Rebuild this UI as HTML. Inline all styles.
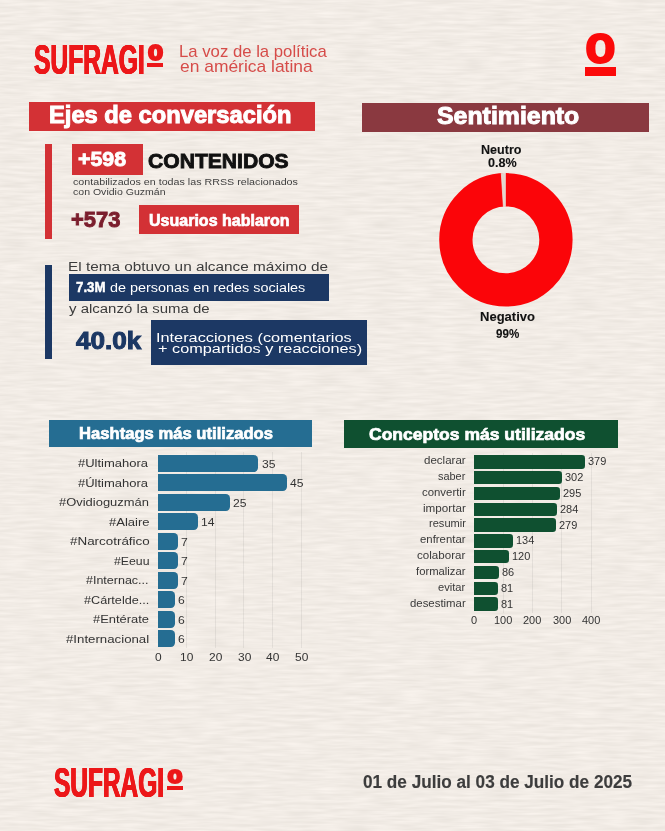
<!DOCTYPE html>
<html lang="es"><head><meta charset="utf-8"><title>Sufragio - Ejes de conversación</title>
<style>
html,body{margin:0;padding:0}
body{width:665px;height:831px;overflow:hidden;position:relative;background:#f1ebe5;font-family:"Liberation Sans",sans-serif}
#bg{position:absolute;left:0;top:0;width:665px;height:831px}
header,main,section,footer,div,p{margin:0;padding:0}
.b{position:absolute}
.t{position:absolute;margin:0;padding:0;white-space:nowrap;line-height:1;font-weight:400;transform-origin:0 0}
.c{display:inline-block;position:relative;line-height:1;transform-origin:0 0}
.g{position:absolute;width:1px;background:rgba(120,120,120,.13)}
</style></head><body>
<svg id="bg" width="665" height="831"><filter id="paper" x="0" y="0" width="100%" height="100%" color-interpolation-filters="sRGB"><feTurbulence type="fractalNoise" baseFrequency="0.035 0.33" numOctaves="2" seed="11" result="n"/><feColorMatrix type="matrix" in="n" values="0.08 0 0 0 0.906  0.08 0 0 0 0.883  0.085 0 0 0 0.856  0 0 0 0 1"/></filter><rect width="665" height="831" filter="url(#paper)"/></svg>

<header>
<div class="logo">
<span class="t" style="left:33.78px;top:38px;font-size:43.31px;color:#ec1719;transform:scaleX(0.5683);font-weight:700;text-shadow:0.80px 0 0 #ec1719,-0.80px 0 0 #ec1719,0.40px 0 0 #ec1719,-0.40px 0 0 #ec1719">SUFRAGI<span class="c" style="left:5.97px;top:-14.00px;font-size:21.25px;color:#ec1719;transform:scaleX(2.0061);text-shadow:none;font-family:'Liberation Mono',monospace;-webkit-text-stroke:2.20px #ec1719">O</span></span>
<div class="b u" style="left:147.2px;top:63.2px;width:16.0px;height:4.0px;background:#ec1719"></div>
</div>
<p class="tagline">
<span class="t" style="left:178.65px;top:44px;font-size:15.99px;color:#d64c49;transform:scaleX(1.0459)">La voz de la política</span>
<span class="t" style="left:179.70px;top:59px;font-size:15.99px;color:#d64c49;transform:scaleX(1.0902)">en américa latina</span>
</p>
<div class="mark">
<span class="t" style="left:586.24px;top:31px;font-size:40.69px;color:#fb0a0a;transform:scaleX(1.1810);font-family:'Liberation Mono',monospace;-webkit-text-stroke:3.80px #fb0a0a">O</span>
<div class="b u" style="left:585.0px;top:67.2px;width:30.8px;height:8.6px;background:#fb0a0a"></div>
</div>
</header>
<main>
<section class="ejes">
<div class="b" style="left:29.1px;top:101.5px;width:285.7px;height:29.2px;background:#d33135"></div>
<h2 class="t" style="left:48.91px;top:103px;font-size:23.98px;color:#fff;transform:scaleX(0.9890);font-weight:700;-webkit-text-stroke:1.01px #fff">Ejes de conversación</h2>
<div class="stat">
<div class="b" style="left:45.0px;top:144.3px;width:6.9px;height:94.5px;background:#d33135"></div>
<div class="b" style="left:72.4px;top:144.3px;width:71.1px;height:30.3px;background:#d33135"></div>
<strong class="t" style="left:78.00px;top:149px;font-size:20.35px;color:#fff;transform:scaleX(1.0488);font-weight:700;-webkit-text-stroke:0.85px #fff">+598</strong>
<strong class="t" style="left:147.50px;top:150px;font-size:21.08px;color:#111;transform:scaleX(1.0009);font-weight:700;-webkit-text-stroke:0.89px #111">CONTENIDOS</strong>
<span class="t" style="left:73.00px;top:177px;font-size:9.88px;color:#404040;transform:scaleX(1.0840)">contabilizados en todas las RRSS relacionados</span>
<span class="t" style="left:73.00px;top:187px;font-size:9.88px;color:#404040;transform:scaleX(1.0669)">con Ovidio Guzmán</span>
<strong class="t" style="left:71.00px;top:210px;font-size:21.51px;color:#7b1e2d;transform:scaleX(1.0192);font-weight:700;-webkit-text-stroke:0.90px #7b1e2d">+573</strong>
<div class="b" style="left:139.2px;top:205.4px;width:159.6px;height:28.6px;background:#d33135"></div>
<strong class="t" style="left:148.54px;top:213px;font-size:16.72px;color:#fff;transform:scaleX(0.9591);font-weight:700;-webkit-text-stroke:0.70px #fff">Usuarios hablaron</strong>
</div>
<div class="stat">
<div class="b" style="left:45.0px;top:264.5px;width:6.9px;height:94.2px;background:#1c3864"></div>
<span class="t" style="left:68.08px;top:260px;font-size:13.66px;color:#3c3c3c;transform:scaleX(1.1234)">El tema obtuvo un alcance máximo de</span>
<div class="b" style="left:68.5px;top:274.2px;width:260.1px;height:26.5px;background:#1c3864"></div>
<strong class="t" style="left:75.50px;top:280px;font-size:14.53px;color:#fff;transform:scaleX(0.9168);font-weight:700;-webkit-text-stroke:0.44px #fff">7.3M</strong>
<span class="t" style="left:109.50px;top:281px;font-size:13.66px;color:#fff;transform:scaleX(1.0544)">de personas en redes sociales</span>
<span class="t" style="left:69.20px;top:302px;font-size:13.66px;color:#3c3c3c;transform:scaleX(1.0964)">y alcanzó la suma de</span>
<strong class="t" style="left:76.10px;top:330px;font-size:23.26px;color:#1c3864;transform:scaleX(1.1210);font-weight:700;-webkit-text-stroke:1.00px #1c3864">40.0k</strong>
<div class="b" style="left:151.2px;top:320.3px;width:215.8px;height:44.7px;background:#1c3864"></div>
<span class="t" style="left:156.25px;top:331px;font-size:13.08px;color:#fff;transform:scaleX(1.2463)">Interacciones (comentarios</span>
<span class="t" style="left:157.50px;top:342px;font-size:13.08px;color:#fff;transform:scaleX(1.2454)">+ compartidos y reacciones)</span>
</div>
</section>
<section class="sentimiento">
<div class="b" style="left:362.2px;top:103.3px;width:287.2px;height:29.1px;background:#8a3940"></div>
<h2 class="t" style="left:436.50px;top:105px;font-size:23.55px;color:#fff;transform:scaleX(1.0559);font-weight:700;-webkit-text-stroke:0.99px #fff">Sentimiento</h2>
<svg class="b" style="left:430px;top:165px" width="150" height="150" viewBox="430 165 150 150">
<circle cx="505.9" cy="239.8" r="50.05" fill="none" stroke="#fb0509" stroke-width="33.3"/>
<path d="M505.4 172.8 L501.3 173.4 L503.4 206.8 L505.4 206.6 Z" fill="#e0d7cd" stroke="#f0ebe5" stroke-width="0.7"/>
</svg>
<span class="t" style="left:481.30px;top:144px;font-size:12.35px;color:#111;transform:scaleX(1.0190);font-weight:700;-webkit-text-stroke:0.10px #111">Neutro</span>
<span class="t" style="left:487.70px;top:157px;font-size:12.35px;color:#111;transform:scaleX(1.0192);font-weight:700;-webkit-text-stroke:0.10px #111">0.8%</span>
<span class="t" style="left:480.00px;top:311px;font-size:12.35px;color:#111;transform:scaleX(1.0553);font-weight:700;-webkit-text-stroke:0.10px #111">Negativo</span>
<span class="t" style="left:496.00px;top:328px;font-size:12.35px;color:#111;transform:scaleX(0.9381);font-weight:700;-webkit-text-stroke:0.10px #111">99%</span>
</section>
<section class="hashtags">
<div class="b" style="left:48.7px;top:420.0px;width:263.8px;height:26.7px;background:#256d92"></div>
<h2 class="t" style="left:78.53px;top:425px;font-size:17.15px;color:#fff;transform:scaleX(0.9698);font-weight:700;-webkit-text-stroke:0.72px #fff">Hashtags más utilizados</h2>
<div class="chart">
<div class="g" style="left:185.8px;top:452px;height:195.5px"></div>
<div class="g" style="left:214.6px;top:452px;height:195.5px"></div>
<div class="g" style="left:243.4px;top:452px;height:195.5px"></div>
<div class="g" style="left:272.2px;top:452px;height:195.5px"></div>
<div class="g" style="left:301.0px;top:452px;height:195.5px"></div>
<div class="row">
<span class="t" style="left:78.00px;top:457px;font-size:11.63px;color:#333;transform:scaleX(1.1183)">#Ultimahora</span>
<div class="b bar" style="left:157.5px;top:454.9px;width:100.8px;height:17.1px;background:#256d92;border-radius:0 4.2px 4.2px 0"></div>
<span class="t" style="left:261.60px;top:459px;font-size:11.34px;color:#333;transform:scaleX(1.0700)">35</span>
</div>
<div class="row">
<span class="t" style="left:78.00px;top:477px;font-size:11.63px;color:#333;transform:scaleX(1.1183)">#Últimahora</span>
<div class="b bar" style="left:157.5px;top:474.4px;width:129.6px;height:17.1px;background:#256d92;border-radius:0 4.2px 4.2px 0"></div>
<span class="t" style="left:290.40px;top:478px;font-size:11.34px;color:#333;transform:scaleX(1.0700)">45</span>
</div>
<div class="row">
<span class="t" style="left:59.30px;top:496px;font-size:11.63px;color:#333;transform:scaleX(1.1134)">#Ovidioguzmán</span>
<div class="b bar" style="left:157.5px;top:493.9px;width:72.0px;height:17.1px;background:#256d92;border-radius:0 4.2px 4.2px 0"></div>
<span class="t" style="left:232.80px;top:498px;font-size:11.34px;color:#333;transform:scaleX(1.0700)">25</span>
</div>
<div class="row">
<span class="t" style="left:108.60px;top:516px;font-size:11.63px;color:#333;transform:scaleX(1.1210)">#Alaire</span>
<div class="b bar" style="left:157.5px;top:513.4px;width:40.3px;height:17.1px;background:#256d92;border-radius:0 4.2px 4.2px 0"></div>
<span class="t" style="left:201.12px;top:517px;font-size:11.34px;color:#333;transform:scaleX(1.0700)">14</span>
</div>
<div class="row">
<span class="t" style="left:69.50px;top:535px;font-size:11.63px;color:#333;transform:scaleX(1.1534)">#Narcotráfico</span>
<div class="b bar" style="left:157.5px;top:532.9px;width:20.2px;height:17.1px;background:#256d92;border-radius:0 4.2px 4.2px 0"></div>
<span class="t" style="left:180.96px;top:537px;font-size:11.34px;color:#333;transform:scaleX(1.0700)">7</span>
</div>
<div class="row">
<span class="t" style="left:113.60px;top:555px;font-size:11.63px;color:#333;transform:scaleX(1.0570)">#Eeuu</span>
<div class="b bar" style="left:157.5px;top:552.4px;width:20.2px;height:17.1px;background:#256d92;border-radius:0 4.2px 4.2px 0"></div>
<span class="t" style="left:180.96px;top:556px;font-size:11.34px;color:#333;transform:scaleX(1.0700)">7</span>
</div>
<div class="row">
<span class="t" style="left:86.40px;top:574px;font-size:11.63px;color:#333;transform:scaleX(1.0751)">#Internac...</span>
<div class="b bar" style="left:157.5px;top:571.9px;width:20.2px;height:17.1px;background:#256d92;border-radius:0 4.2px 4.2px 0"></div>
<span class="t" style="left:180.96px;top:576px;font-size:11.34px;color:#333;transform:scaleX(1.0700)">7</span>
</div>
<div class="row">
<span class="t" style="left:83.70px;top:594px;font-size:11.63px;color:#333;transform:scaleX(1.0855)">#Cártelde...</span>
<div class="b bar" style="left:157.5px;top:591.4px;width:17.3px;height:17.1px;background:#256d92;border-radius:0 4.2px 4.2px 0"></div>
<span class="t" style="left:178.08px;top:595px;font-size:11.34px;color:#333;transform:scaleX(1.0700)">6</span>
</div>
<div class="row">
<span class="t" style="left:93.20px;top:613px;font-size:11.63px;color:#333;transform:scaleX(1.1105)">#Entérate</span>
<div class="b bar" style="left:157.5px;top:610.9px;width:17.3px;height:17.1px;background:#256d92;border-radius:0 4.2px 4.2px 0"></div>
<span class="t" style="left:178.08px;top:615px;font-size:11.34px;color:#333;transform:scaleX(1.0700)">6</span>
</div>
<div class="row">
<span class="t" style="left:66.20px;top:633px;font-size:11.63px;color:#333;transform:scaleX(1.1389)">#Internacional</span>
<div class="b bar" style="left:157.5px;top:630.4px;width:17.3px;height:17.1px;background:#256d92;border-radius:0 4.2px 4.2px 0"></div>
<span class="t" style="left:178.08px;top:634px;font-size:11.34px;color:#333;transform:scaleX(1.0700)">6</span>
</div>
<div class="axis">
<span class="t" style="left:154.56px;top:652px;font-size:11.05px;color:#333;transform:scaleX(1.0800)">0</span>
<span class="t" style="left:180.05px;top:652px;font-size:11.05px;color:#333;transform:scaleX(1.0800)">10</span>
<span class="t" style="left:208.85px;top:652px;font-size:11.05px;color:#333;transform:scaleX(1.0800)">20</span>
<span class="t" style="left:237.65px;top:652px;font-size:11.05px;color:#333;transform:scaleX(1.0800)">30</span>
<span class="t" style="left:266.45px;top:652px;font-size:11.05px;color:#333;transform:scaleX(1.0800)">40</span>
<span class="t" style="left:295.25px;top:652px;font-size:11.05px;color:#333;transform:scaleX(1.0800)">50</span>
</div>
</div>
</section>
<section class="conceptos">
<div class="b" style="left:343.5px;top:420.0px;width:274.7px;height:28.4px;background:#0f5030"></div>
<h2 class="t" style="left:368.70px;top:426px;font-size:17.01px;color:#fff;transform:scaleX(1.0308);font-weight:700;-webkit-text-stroke:0.71px #fff">Conceptos más utilizados</h2>
<div class="chart">
<div class="g" style="left:502.9px;top:453px;height:160px"></div>
<div class="g" style="left:532.1px;top:453px;height:160px"></div>
<div class="g" style="left:561.4px;top:453px;height:160px"></div>
<div class="g" style="left:590.6px;top:453px;height:160px"></div>
<div class="row">
<span class="t" style="left:424.00px;top:456px;font-size:10.47px;color:#3a3a3a;transform:scaleX(1.1023)">declarar</span>
<div class="b bar" style="left:474.2px;top:455.0px;width:110.7px;height:13.6px;background:#0f5030;border-radius:0 3.2px 3.2px 0"></div>
<span class="t" style="left:587.94px;top:457px;font-size:10.47px;color:#333;transform:scaleX(1.0500)">379</span>
</div>
<div class="row">
<span class="t" style="left:438.40px;top:472px;font-size:10.47px;color:#3a3a3a;transform:scaleX(1.0425)">saber</span>
<div class="b bar" style="left:474.2px;top:470.8px;width:88.2px;height:13.6px;background:#0f5030;border-radius:0 3.2px 3.2px 0"></div>
<span class="t" style="left:565.44px;top:473px;font-size:10.47px;color:#333;transform:scaleX(1.0500)">302</span>
</div>
<div class="row">
<span class="t" style="left:422.00px;top:488px;font-size:10.47px;color:#3a3a3a;transform:scaleX(1.0886)">convertir</span>
<div class="b bar" style="left:474.2px;top:486.6px;width:86.2px;height:13.6px;background:#0f5030;border-radius:0 3.2px 3.2px 0"></div>
<span class="t" style="left:563.40px;top:489px;font-size:10.47px;color:#333;transform:scaleX(1.0500)">295</span>
</div>
<div class="row">
<span class="t" style="left:422.90px;top:504px;font-size:10.47px;color:#3a3a3a;transform:scaleX(1.1144)">importar</span>
<div class="b bar" style="left:474.2px;top:502.5px;width:83.0px;height:13.6px;background:#0f5030;border-radius:0 3.2px 3.2px 0"></div>
<span class="t" style="left:560.18px;top:505px;font-size:10.47px;color:#333;transform:scaleX(1.0500)">284</span>
</div>
<div class="row">
<span class="t" style="left:428.80px;top:519px;font-size:10.47px;color:#3a3a3a;transform:scaleX(1.0576)">resumir</span>
<div class="b bar" style="left:474.2px;top:518.3px;width:81.5px;height:13.6px;background:#0f5030;border-radius:0 3.2px 3.2px 0"></div>
<span class="t" style="left:558.72px;top:521px;font-size:10.47px;color:#333;transform:scaleX(1.0500)">279</span>
</div>
<div class="row">
<span class="t" style="left:420.20px;top:535px;font-size:10.47px;color:#3a3a3a;transform:scaleX(1.0860)">enfrentar</span>
<div class="b bar" style="left:474.2px;top:534.1px;width:39.2px;height:13.6px;background:#0f5030;border-radius:0 3.2px 3.2px 0"></div>
<span class="t" style="left:516.35px;top:536px;font-size:10.47px;color:#333;transform:scaleX(1.0500)">134</span>
</div>
<div class="row">
<span class="t" style="left:417.40px;top:551px;font-size:10.47px;color:#3a3a3a;transform:scaleX(1.1066)">colaborar</span>
<div class="b bar" style="left:474.2px;top:549.9px;width:35.1px;height:13.6px;background:#0f5030;border-radius:0 3.2px 3.2px 0"></div>
<span class="t" style="left:512.26px;top:552px;font-size:10.47px;color:#333;transform:scaleX(1.0500)">120</span>
</div>
<div class="row">
<span class="t" style="left:416.20px;top:567px;font-size:10.47px;color:#3a3a3a;transform:scaleX(1.0775)">formalizar</span>
<div class="b bar" style="left:474.2px;top:565.7px;width:25.1px;height:13.6px;background:#0f5030;border-radius:0 3.2px 3.2px 0"></div>
<span class="t" style="left:502.33px;top:568px;font-size:10.47px;color:#333;transform:scaleX(1.0500)">86</span>
</div>
<div class="row">
<span class="t" style="left:438.40px;top:583px;font-size:10.47px;color:#3a3a3a;transform:scaleX(1.0659)">evitar</span>
<div class="b bar" style="left:474.2px;top:581.6px;width:23.7px;height:13.6px;background:#0f5030;border-radius:0 3.2px 3.2px 0"></div>
<span class="t" style="left:500.87px;top:584px;font-size:10.47px;color:#333;transform:scaleX(1.0500)">81</span>
</div>
<div class="row">
<span class="t" style="left:410.00px;top:599px;font-size:10.47px;color:#3a3a3a;transform:scaleX(1.0883)">desestimar</span>
<div class="b bar" style="left:474.2px;top:597.4px;width:23.7px;height:13.6px;background:#0f5030;border-radius:0 3.2px 3.2px 0"></div>
<span class="t" style="left:500.87px;top:600px;font-size:10.47px;color:#333;transform:scaleX(1.0500)">81</span>
</div>
<div class="axis">
<span class="t" style="left:471.05px;top:616px;font-size:10.47px;color:#333;transform:scaleX(1.0500)">0</span>
<span class="t" style="left:494.17px;top:616px;font-size:10.47px;color:#333;transform:scaleX(1.0500)">100</span>
<span class="t" style="left:523.39px;top:616px;font-size:10.47px;color:#333;transform:scaleX(1.0500)">200</span>
<span class="t" style="left:552.61px;top:616px;font-size:10.47px;color:#333;transform:scaleX(1.0500)">300</span>
<span class="t" style="left:581.83px;top:616px;font-size:10.47px;color:#333;transform:scaleX(1.0500)">400</span>
</div>
</div>
</section>
</main>
<footer>
<div class="logo">
<span class="t" style="left:53.57px;top:762px;font-size:42.15px;color:#ec1719;transform:scaleX(0.5803);font-weight:700;text-shadow:0.80px 0 0 #ec1719,-0.80px 0 0 #ec1719,0.40px 0 0 #ec1719,-0.40px 0 0 #ec1719">SUFRAGI<span class="c" style="left:6.12px;top:-14.00px;font-size:20.65px;color:#ec1719;transform:scaleX(2.0114);text-shadow:none;font-family:'Liberation Mono',monospace;-webkit-text-stroke:2.20px #ec1719">O</span></span>
<div class="b u" style="left:167.0px;top:786.3px;width:16.0px;height:3.7px;background:#ec1719"></div>
</div>
<p class="t" style="left:362.60px;top:774px;font-size:17.44px;color:#3d3d3d;transform:scaleX(0.9846);font-weight:700;-webkit-text-stroke:0.15px #3d3d3d">01 de Julio al 03 de Julio de 2025</p>
</footer>
</body></html>
